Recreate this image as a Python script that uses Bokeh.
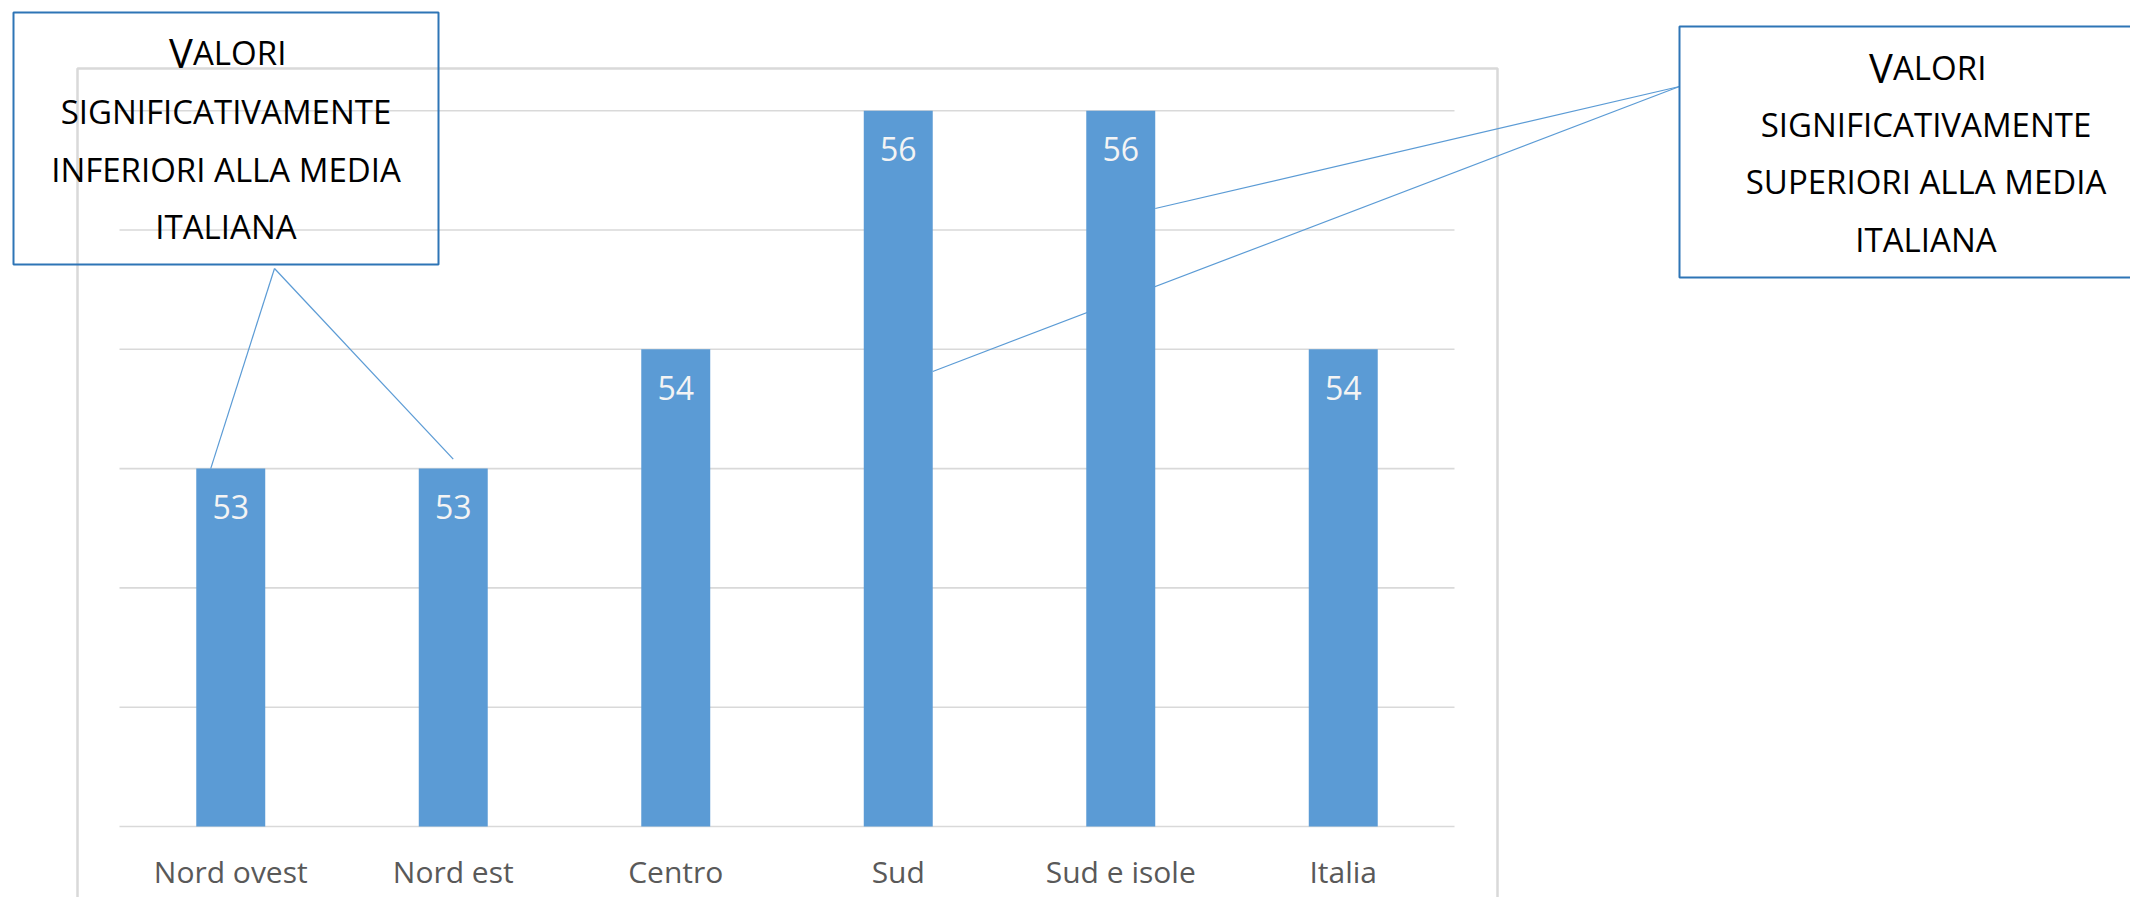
from bokeh.plotting import figure
from bokeh.models import Range1d
from bokeh.core.properties import value
from bokeh.embed import file_html
from bokeh.resources import INLINE

# ---- data ----
categories = ["Nord ovest", "Nord est", "Centro", "Sud", "Sud e isole", "Italia"]
values = [53, 53, 54, 56, 56, 54]
grid_values = [50, 51, 52, 53, 54, 55, 56]
note_low = ["Valori", "significativamente", "inferiori alla media", "italiana"]
note_high = ["Valori", "significativamente", "superiori alla media", "italiana"]

# ---- layout helpers (page pixel -> data) ----
X0_PX, XS = 119.0, 222.5     # x=0 at page px 119, px per category
Y0_PX, YS = 826.0, 119.3     # y=50 at page px 826, px per unit
Y_BASE = grid_values[0]
W, H, M = 2130, 897, 0
SHIFT = 0.4                  # baseline correction, in em


def X(px):
    return (px - X0_PX) / XS


def Y(py):
    return Y_BASE + (Y0_PX - py) / YS


def TY(py, size):
    return Y(py - SHIFT * size)


p = figure(width=W, height=H, output_backend="svg", toolbar_location=None,
           x_range=Range1d(X(M), X(M + W)), y_range=Range1d(Y(M + H), Y(M)),
           x_axis_type=None, y_axis_type=None, min_border=0,
           outline_line_color=None, background_fill_color="white",
           border_fill_color="white")

FONT = value("Open Sans")
BAR_W = 0.31
BAR_COLOR = "#5b9bd5"
n = len(categories)
xs = [i + 0.5 for i in range(n)]

# chart area border
p.quad(left=X(77), right=X(1497), top=Y(68), bottom=Y(1000),
       fill_color=None, line_color="#d9d9d9", line_width=2.5)

# gridlines
p.segment(x0=[0] * len(grid_values), x1=[n] * len(grid_values),
          y0=grid_values, y1=grid_values, line_color="#d9d9d9", line_width=1.6)

# callout leader lines (drawn beneath bars)
lx, ly = X(274), Y(268)
p.segment(x0=[lx, lx], y0=[ly, ly],
          x1=[xs[0] - 0.09, xs[1]], y1=[values[0], values[1] + 0.08],
          line_color=BAR_COLOR, line_width=1.2)
rx, ry = X(1679), Y(86)
p.segment(x0=[rx, rx], y0=[ry, ry],
          x1=[xs[4] + BAR_W / 2, xs[3] + BAR_W / 2], y1=[Y(208), Y(371)],
          line_color=BAR_COLOR, line_width=1.2)

# bars
p.vbar(x=xs, top=values, bottom=Y_BASE, width=BAR_W, fill_color=BAR_COLOR,
       line_color=None)

# value labels inside bars
p.text(x=xs, y=[v - (51 - SHIFT * 32) / YS for v in values],
       text=[str(v) for v in values],
       text_font=FONT, text_font_size="32px", text_color="#f4f4f4",
       text_align="center", text_baseline="alphabetic")

# category labels
p.text(x=xs, y=[TY(883, 30)] * n, text=categories, text_font=FONT,
       text_font_size="30px", text_color="#595959", text_align="center",
       text_baseline="alphabetic")


def callout(left, top, right, bottom, cx, baselines, lines):
    p.quad(left=X(left), right=X(right), top=Y(top), bottom=Y(bottom),
           fill_color=None, line_color="#2e75b6", line_width=2)
    first = lines[0].upper()
    start = cx - 57
    p.text(x=[X(start)], y=[TY(baselines[0], 33)], text=[first[0]],
           text_font=FONT, text_font_size="40px", text_color="#000000",
           text_align="left", text_baseline="alphabetic")
    p.text(x=[X(start + 24)], y=[TY(baselines[0], 33)], text=[first[1:]],
           text_font=FONT, text_font_size="33px", text_color="#000000",
           text_align="left", text_baseline="alphabetic")
    p.text(x=[X(cx)] * (len(lines) - 1),
           y=[TY(b, 33) for b in baselines[1:]],
           text=[t.upper() for t in lines[1:]], text_font=FONT,
           text_font_size="33px", text_color="#000000", text_align="center",
           text_baseline="alphabetic")


callout(13, 12, 438, 264, 225.5, [65, 124, 182, 239], note_low)
callout(1679, 26, 2171, 277, 1925.5, [80, 137, 194, 252], note_high)

open("out.html", "w").write(file_html(p, INLINE))
